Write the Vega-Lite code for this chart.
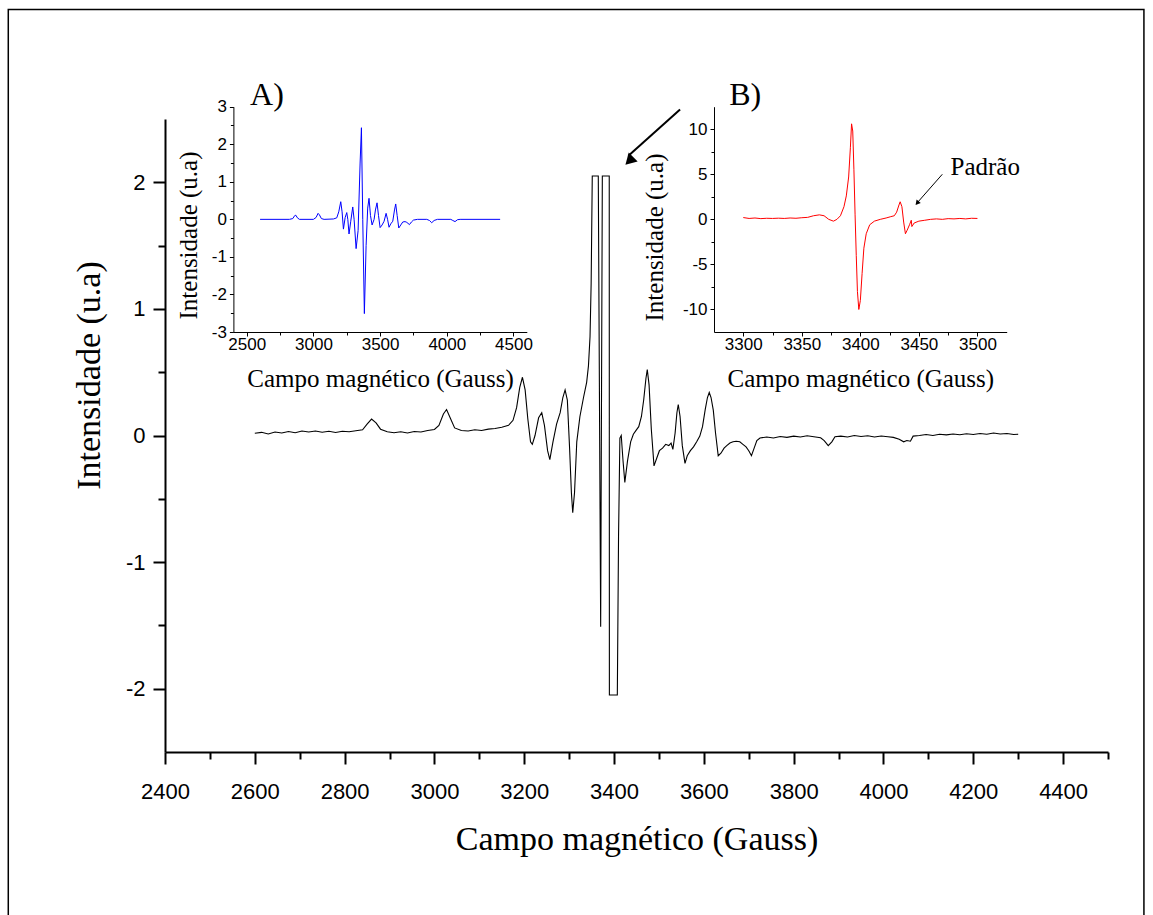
{
  "$schema": "https://vega.github.io/schema/vega-lite/v6.json",
  "width": 943,
  "height": 633,
  "autosize": {"type": "none"},
  "padding": {"left": 165, "top": 119, "right": 45, "bottom": 163},
  "background": "white",
  "config": {
    "view": {"stroke": null},
    "axis": {
      "grid": false,
      "labelFont": "Liberation Sans",
      "titleFont": "Liberation Serif",
      "titleFontWeight": "normal",
      "labelColor": "black",
      "titleColor": "black",
      "domainColor": "black",
      "tickColor": "black",
      "labelOverlap": false,
      "labelFlush": false
    }
  },
  "datasets": {
    "main": [
      {"x": 2600, "y": 0.018}, {"x": 2615, "y": 0.025}, {"x": 2630, "y": 0.012}, {"x": 2645, "y": 0.028},
      {"x": 2660, "y": 0.02}, {"x": 2675, "y": 0.032}, {"x": 2690, "y": 0.022}, {"x": 2705, "y": 0.035},
      {"x": 2720, "y": 0.028}, {"x": 2735, "y": 0.036}, {"x": 2750, "y": 0.026}, {"x": 2765, "y": 0.033},
      {"x": 2780, "y": 0.024}, {"x": 2795, "y": 0.034}, {"x": 2810, "y": 0.03}, {"x": 2825, "y": 0.038},
      {"x": 2840, "y": 0.045}, {"x": 2850, "y": 0.09}, {"x": 2860, "y": 0.13}, {"x": 2870, "y": 0.1},
      {"x": 2880, "y": 0.05}, {"x": 2895, "y": 0.03}, {"x": 2910, "y": 0.022}, {"x": 2925, "y": 0.03},
      {"x": 2940, "y": 0.02}, {"x": 2955, "y": 0.032}, {"x": 2970, "y": 0.028}, {"x": 2985, "y": 0.04},
      {"x": 3000, "y": 0.048}, {"x": 3010, "y": 0.08}, {"x": 3020, "y": 0.17}, {"x": 3027, "y": 0.205},
      {"x": 3035, "y": 0.14}, {"x": 3045, "y": 0.06}, {"x": 3060, "y": 0.04}, {"x": 3075, "y": 0.035},
      {"x": 3090, "y": 0.045}, {"x": 3105, "y": 0.04}, {"x": 3120, "y": 0.05}, {"x": 3135, "y": 0.055},
      {"x": 3150, "y": 0.065}, {"x": 3165, "y": 0.08}, {"x": 3175, "y": 0.12}, {"x": 3183, "y": 0.22},
      {"x": 3190, "y": 0.38}, {"x": 3196, "y": 0.46}, {"x": 3202, "y": 0.36}, {"x": 3208, "y": 0.13},
      {"x": 3214, "y": -0.05}, {"x": 3218, "y": -0.07}, {"x": 3224, "y": 0.0}, {"x": 3232, "y": 0.14},
      {"x": 3239, "y": 0.18}, {"x": 3245, "y": 0.08}, {"x": 3252, "y": -0.12}, {"x": 3257, "y": -0.19},
      {"x": 3264, "y": -0.05}, {"x": 3272, "y": 0.09}, {"x": 3280, "y": 0.18}, {"x": 3286, "y": 0.3},
      {"x": 3291, "y": 0.36}, {"x": 3296, "y": 0.28}, {"x": 3301, "y": -0.1}, {"x": 3305, "y": -0.45},
      {"x": 3308, "y": -0.61}, {"x": 3312, "y": -0.45}, {"x": 3317, "y": -0.05}, {"x": 3324, "y": 0.15},
      {"x": 3332, "y": 0.3}, {"x": 3339, "y": 0.42}, {"x": 3343, "y": 0.55}, {"x": 3346.5, "y": 0.78},
      {"x": 3349, "y": 1.2}, {"x": 3351.5, "y": 2.05}, {"x": 3364.9, "y": 2.05}, {"x": 3370.2, "y": -1.51},
      {"x": 3373.9, "y": 2.05}, {"x": 3389.3, "y": 2.05}, {"x": 3389.6, "y": -2.05}, {"x": 3407.3, "y": -2.05},
      {"x": 3410, "y": -0.8}, {"x": 3413, "y": -0.02}, {"x": 3416, "y": 0.0}, {"x": 3420, "y": -0.2},
      {"x": 3424, "y": -0.37}, {"x": 3430, "y": -0.2}, {"x": 3437, "y": -0.05}, {"x": 3443, "y": 0.01},
      {"x": 3449, "y": 0.04}, {"x": 3455, "y": 0.07}, {"x": 3461, "y": 0.15}, {"x": 3466, "y": 0.28},
      {"x": 3471, "y": 0.45}, {"x": 3474, "y": 0.52}, {"x": 3478, "y": 0.4}, {"x": 3483, "y": 0.05},
      {"x": 3489, "y": -0.24}, {"x": 3495, "y": -0.18}, {"x": 3501, "y": -0.12}, {"x": 3508, "y": -0.1},
      {"x": 3515, "y": -0.07}, {"x": 3522, "y": -0.08}, {"x": 3527, "y": -0.06}, {"x": 3531, "y": -0.11},
      {"x": 3536, "y": 0.02}, {"x": 3540, "y": 0.18}, {"x": 3543, "y": 0.245}, {"x": 3547, "y": 0.15},
      {"x": 3552, "y": -0.08}, {"x": 3558, "y": -0.22}, {"x": 3563, "y": -0.16}, {"x": 3570, "y": -0.12},
      {"x": 3577, "y": -0.09}, {"x": 3584, "y": -0.05}, {"x": 3591, "y": -0.005}, {"x": 3597, "y": 0.07},
      {"x": 3603, "y": 0.205}, {"x": 3608, "y": 0.3}, {"x": 3612, "y": 0.34}, {"x": 3616, "y": 0.3},
      {"x": 3621, "y": 0.2}, {"x": 3626, "y": 0.02}, {"x": 3632, "y": -0.16}, {"x": 3638, "y": -0.14},
      {"x": 3645, "y": -0.1}, {"x": 3651, "y": -0.08}, {"x": 3658, "y": -0.06}, {"x": 3665, "y": -0.05},
      {"x": 3672, "y": -0.045}, {"x": 3680, "y": -0.05}, {"x": 3687, "y": -0.07}, {"x": 3694, "y": -0.09},
      {"x": 3700, "y": -0.12}, {"x": 3706, "y": -0.16}, {"x": 3712, "y": -0.1}, {"x": 3718, "y": -0.04},
      {"x": 3725, "y": -0.02}, {"x": 3740, "y": -0.012}, {"x": 3755, "y": -0.02}, {"x": 3770, "y": -0.008},
      {"x": 3785, "y": -0.015}, {"x": 3800, "y": -0.005}, {"x": 3815, "y": -0.012}, {"x": 3830, "y": -0.002},
      {"x": 3845, "y": -0.01}, {"x": 3860, "y": -0.018}, {"x": 3868, "y": -0.04}, {"x": 3877, "y": -0.08},
      {"x": 3885, "y": -0.05}, {"x": 3892, "y": -0.01}, {"x": 3905, "y": -0.005}, {"x": 3920, "y": -0.012},
      {"x": 3935, "y": 0.0}, {"x": 3950, "y": -0.008}, {"x": 3965, "y": -0.002}, {"x": 3980, "y": -0.012},
      {"x": 3995, "y": -0.004}, {"x": 4010, "y": -0.01}, {"x": 4022, "y": -0.015}, {"x": 4035, "y": -0.03},
      {"x": 4045, "y": -0.05}, {"x": 4052, "y": -0.04}, {"x": 4060, "y": -0.045}, {"x": 4066, "y": -0.005},
      {"x": 4080, "y": 0.0}, {"x": 4095, "y": 0.008}, {"x": 4110, "y": 0.0}, {"x": 4125, "y": 0.01},
      {"x": 4140, "y": 0.005}, {"x": 4155, "y": 0.012}, {"x": 4170, "y": 0.006}, {"x": 4185, "y": 0.014},
      {"x": 4200, "y": 0.008}, {"x": 4215, "y": 0.016}, {"x": 4230, "y": 0.01}, {"x": 4245, "y": 0.02},
      {"x": 4260, "y": 0.012}, {"x": 4275, "y": 0.016}, {"x": 4290, "y": 0.008}, {"x": 4300, "y": 0.01}
    ],
    "insetA": [
      {"x": 2600, "y": 0}, {"x": 2820, "y": 0}, {"x": 2845, "y": 0.02}, {"x": 2860, "y": 0.1},
      {"x": 2868, "y": 0.11}, {"x": 2880, "y": 0.04}, {"x": 2895, "y": 0}, {"x": 3000, "y": 0},
      {"x": 3020, "y": 0.05}, {"x": 3035, "y": 0.16}, {"x": 3045, "y": 0.12}, {"x": 3060, "y": 0.02},
      {"x": 3080, "y": 0}, {"x": 3150, "y": 0.01}, {"x": 3175, "y": 0.04}, {"x": 3190, "y": 0.2},
      {"x": 3205, "y": 0.47}, {"x": 3215, "y": 0.2}, {"x": 3225, "y": -0.26}, {"x": 3238, "y": 0.05},
      {"x": 3250, "y": 0.18}, {"x": 3258, "y": 0.0}, {"x": 3267, "y": -0.39}, {"x": 3280, "y": -0.05},
      {"x": 3295, "y": 0.33}, {"x": 3305, "y": 0.0}, {"x": 3320, "y": -0.78}, {"x": 3335, "y": -0.3},
      {"x": 3350, "y": 1.5}, {"x": 3360, "y": 2.44}, {"x": 3370, "y": 0.0}, {"x": 3382, "y": -2.51},
      {"x": 3395, "y": -0.7}, {"x": 3407, "y": 0.3}, {"x": 3417, "y": 0.56}, {"x": 3428, "y": 0.1},
      {"x": 3440, "y": -0.15}, {"x": 3455, "y": 0.0}, {"x": 3465, "y": 0.25}, {"x": 3477, "y": 0.44},
      {"x": 3488, "y": 0.1}, {"x": 3500, "y": -0.22}, {"x": 3515, "y": -0.15}, {"x": 3530, "y": -0.05},
      {"x": 3545, "y": 0.16}, {"x": 3556, "y": 0.0}, {"x": 3567, "y": -0.21}, {"x": 3580, "y": -0.12},
      {"x": 3595, "y": -0.05}, {"x": 3608, "y": 0.25}, {"x": 3617, "y": 0.41}, {"x": 3628, "y": 0.1},
      {"x": 3640, "y": -0.23}, {"x": 3655, "y": -0.15}, {"x": 3670, "y": -0.07}, {"x": 3687, "y": -0.06},
      {"x": 3700, "y": -0.08}, {"x": 3720, "y": -0.14}, {"x": 3735, "y": -0.07}, {"x": 3750, "y": -0.02},
      {"x": 3780, "y": 0}, {"x": 3850, "y": 0}, {"x": 3870, "y": -0.03}, {"x": 3887, "y": -0.09},
      {"x": 3905, "y": -0.03}, {"x": 3930, "y": 0}, {"x": 4030, "y": 0}, {"x": 4045, "y": -0.03},
      {"x": 4062, "y": -0.06}, {"x": 4080, "y": -0.01}, {"x": 4100, "y": 0}, {"x": 4400, "y": 0}
    ],
    "insetB": [
      {"x": 3300, "y": 0.2}, {"x": 3305, "y": 0.1}, {"x": 3310, "y": 0.15}, {"x": 3315, "y": 0.08},
      {"x": 3320, "y": 0.12}, {"x": 3325, "y": 0.1}, {"x": 3330, "y": 0.13}, {"x": 3335, "y": 0.1},
      {"x": 3340, "y": 0.15}, {"x": 3345, "y": 0.12}, {"x": 3350, "y": 0.18}, {"x": 3355, "y": 0.22},
      {"x": 3360, "y": 0.4}, {"x": 3365, "y": 0.5}, {"x": 3369, "y": 0.4}, {"x": 3373, "y": 0.0},
      {"x": 3377, "y": -0.2}, {"x": 3380, "y": 0.0}, {"x": 3383, "y": 0.4}, {"x": 3386, "y": 1.4},
      {"x": 3388, "y": 2.6}, {"x": 3390, "y": 4.7}, {"x": 3391.5, "y": 8.0}, {"x": 3392.5, "y": 10.6},
      {"x": 3393.5, "y": 9.8}, {"x": 3394.5, "y": 5.5}, {"x": 3395.5, "y": 0.5}, {"x": 3396.5, "y": -4.0},
      {"x": 3397.5, "y": -8.0}, {"x": 3398.7, "y": -10.0}, {"x": 3400, "y": -9.0}, {"x": 3401.5, "y": -6.0},
      {"x": 3403, "y": -3.2}, {"x": 3405, "y": -1.6}, {"x": 3408, "y": -0.6}, {"x": 3412, "y": -0.2},
      {"x": 3417, "y": 0.0}, {"x": 3422, "y": 0.15}, {"x": 3426, "y": 0.3}, {"x": 3429, "y": 0.4},
      {"x": 3431, "y": 0.8}, {"x": 3433, "y": 1.6}, {"x": 3434, "y": 1.95}, {"x": 3435.5, "y": 1.4},
      {"x": 3437, "y": -0.3}, {"x": 3438.5, "y": -1.6}, {"x": 3440, "y": -1.2}, {"x": 3442, "y": -0.6},
      {"x": 3443.5, "y": -0.1}, {"x": 3444, "y": -0.8}, {"x": 3446, "y": -0.4}, {"x": 3450, "y": -0.2},
      {"x": 3455, "y": -0.1}, {"x": 3460, "y": 0.0}, {"x": 3465, "y": 0.05}, {"x": 3470, "y": 0.0},
      {"x": 3475, "y": 0.08}, {"x": 3480, "y": 0.05}, {"x": 3485, "y": 0.1}, {"x": 3490, "y": 0.05},
      {"x": 3495, "y": 0.12}, {"x": 3500, "y": 0.1}
    ],
    "frame": [{"x": 2051, "x2": 4580, "y": 3.365, "y2": -3.9}],
    "bigArrow": [{"x": 3547, "y": 2.575, "x2": 3432, "y2": 2.21}],
    "bigHead": [{"x": 3434, "y": 2.17}],
    "labelA": [{"x": 2525, "y": 3.3, "label": "A)"}],
    "labelB": [{"x": 3288, "y": 13.8, "label": "B)"}],
    "padArrow": [{"x": 3470, "y": 5.0, "x2": 3449, "y2": 1.9}],
    "padHead": [{"x": 3448.5, "y": 1.8}],
    "padText": [{"x": 3477, "y": 5.8, "label": "Padrão"}]
  },
  "layer": [
    {
      "resolve": {"axis": {"x": "independent", "y": "independent"}},
      "layer": [
        {
          "data": {"name": "frame"},
          "mark": {"type": "rect", "fill": null, "stroke": "black", "strokeWidth": 1.5},
          "encoding": {
            "x": {
              "field": "x", "type": "quantitative",
              "scale": {"domain": [2400, 4500], "nice": false, "zero": false},
              "axis": {"orient": "bottom", "title": null, "labels": false, "domain": false, "tickSize": 7, "tickWidth": 2,
                       "values": [2500, 2700, 2900, 3100, 3300, 3500, 3700, 3900, 4100, 4300, 4500]}
            },
            "x2": {"field": "x2"},
            "y": {
              "field": "y", "type": "quantitative",
              "scale": {"domain": [-2.5, 2.5], "nice": false, "zero": false},
              "axis": {"orient": "left", "title": null, "labels": false, "domain": false, "tickSize": 7, "tickWidth": 2,
                       "values": [-1.5, -0.5, 0.5, 1.5]}
            },
            "y2": {"field": "y2"}
          }
        },
        {
          "data": {"name": "main"},
          "mark": {"type": "line", "color": "black", "strokeWidth": 1.1},
          "encoding": {
            "x": {
              "field": "x", "type": "quantitative",
              "scale": {"domain": [2400, 4500], "nice": false, "zero": false},
              "axis": {
                "orient": "bottom",
                "title": "Campo magnético (Gauss)",
                "titleFontSize": 34,
                "titleY": 70,
                "values": [2400, 2600, 2800, 3000, 3200, 3400, 3600, 3800, 4000, 4200, 4400],
                "labelExpr": "toString(datum.value)",
                "labelFontSize": 22,
                "labelPadding": 17,
                "tickSize": 12,
                "tickWidth": 2,
                "domainWidth": 2
              }
            },
            "y": {
              "field": "y", "type": "quantitative",
              "scale": {"domain": [-2.5, 2.5], "nice": false, "zero": false},
              "axis": {
                "orient": "left",
                "title": "Intensidade (u.a)",
                "titleFontSize": 34,
                "titleX": -59,
                "titleY": 256,
                "values": [-2, -1, 0, 1, 2],
                "labelExpr": "toString(datum.value)",
                "labelFontSize": 22,
                "labelPadding": 8,
                "tickSize": 12,
                "tickWidth": 2,
                "domainWidth": 2
              }
            }
          }
        },
        {
          "data": {"name": "bigArrow"},
          "mark": {"type": "rule", "color": "black", "strokeWidth": 2},
          "encoding": {
            "x": {"field": "x", "type": "quantitative", "axis": null},
            "x2": {"field": "x2"},
            "y": {"field": "y", "type": "quantitative", "axis": null},
            "y2": {"field": "y2"}
          }
        },
        {
          "data": {"name": "bigHead"},
          "mark": {"type": "point", "shape": "triangle-up", "filled": true, "color": "black", "opacity": 1, "size": 160, "angle": 225},
          "encoding": {
            "x": {"field": "x", "type": "quantitative", "axis": null},
            "y": {"field": "y", "type": "quantitative", "axis": null}
          }
        }
      ]
    },
    {
      "resolve": {"axis": {"x": "independent", "y": "independent"}},
      "layer": [
        {
          "data": {"name": "insetA"},
          "mark": {"type": "line", "color": "#0000ff", "strokeWidth": 1},
          "encoding": {
            "x": {
              "field": "x", "type": "quantitative",
              "scale": {"domain": [2400, 4600], "range": [68.4, 361.8], "nice": false, "zero": false},
              "axis": {
                "orient": "bottom",
                "offset": -420,
                "title": "Campo magnético (Gauss)",
                "titleFontSize": 25,
                "titleY": 34,
                "values": [2500, 3000, 3500, 4000, 4500],
                "labelExpr": "toString(datum.value)",
                "labelFontSize": 17,
                "labelPadding": 0,
                "tickSize": 4,
                "tickWidth": 1,
                "domainWidth": 1
              }
            },
            "y": {
              "field": "y", "type": "quantitative",
              "scale": {"domain": [-3, 3], "range": [213, -12.3], "nice": false, "zero": false},
              "axis": {
                "orient": "left",
                "offset": -68.4,
                "title": "Intensidade (u.a)",
                "titleFontSize": 25,
                "titleX": -32.4,
                "titleY": 116,
                "values": [-3, -2, -1, 0, 1, 2, 3],
                "labelExpr": "toString(datum.value)",
                "labelFontSize": 17,
                "labelPadding": 3,
                "tickSize": 4,
                "tickWidth": 1,
                "domainWidth": 1
              }
            }
          }
        },
        {
          "data": {"name": "labelA"},
          "mark": {"type": "text", "font": "Liberation Serif", "fontSize": 32, "align": "left", "baseline": "middle", "color": "black"},
          "encoding": {
            "x": {
              "field": "x", "type": "quantitative",
              "scale": {"domain": [2400, 4600], "range": [68.4, 361.8], "nice": false, "zero": false},
              "axis": {"orient": "bottom", "offset": -420, "title": null, "labels": false, "domain": false, "tickSize": 3, "tickWidth": 1,
                       "values": [2750, 3250, 3750, 4250]}
            },
            "y": {
              "field": "y", "type": "quantitative",
              "scale": {"domain": [-3, 3], "range": [213, -12.3], "nice": false, "zero": false},
              "axis": {"orient": "left", "offset": -68.4, "title": null, "labels": false, "domain": false, "tickSize": 3, "tickWidth": 1,
                       "values": [-2.5, -1.5, -0.5, 0.5, 1.5, 2.5]}
            },
            "text": {"field": "label"}
          }
        }
      ]
    },
    {
      "resolve": {"axis": {"x": "independent", "y": "independent"}},
      "layer": [
        {
          "data": {"name": "insetB"},
          "mark": {"type": "line", "color": "#ff0000", "strokeWidth": 1},
          "encoding": {
            "x": {
              "field": "x", "type": "quantitative",
              "scale": {"domain": [3275, 3525], "range": [549, 841.7], "nice": false, "zero": false},
              "axis": {
                "orient": "bottom",
                "offset": -420,
                "title": "Campo magnético (Gauss)",
                "titleFontSize": 25,
                "titleY": 34,
                "values": [3300, 3350, 3400, 3450, 3500],
                "labelExpr": "toString(datum.value)",
                "labelFontSize": 17,
                "labelPadding": 0,
                "tickSize": 4,
                "tickWidth": 1,
                "domainWidth": 1
              }
            },
            "y": {
              "field": "y", "type": "quantitative",
              "scale": {"domain": [-12.5, 12.5], "range": [213, -12.3], "nice": false, "zero": false},
              "axis": {
                "orient": "left",
                "offset": -549,
                "title": "Intensidade (u.a)",
                "titleFontSize": 25,
                "titleX": -46.5,
                "titleY": 118,
                "values": [-10, -5, 0, 5, 10],
                "labelExpr": "toString(datum.value)",
                "labelFontSize": 17,
                "labelPadding": 3,
                "tickSize": 4,
                "tickWidth": 1,
                "domainWidth": 1
              }
            }
          }
        },
        {
          "data": {"name": "labelB"},
          "mark": {"type": "text", "font": "Liberation Serif", "fontSize": 32, "align": "left", "baseline": "middle", "color": "black"},
          "encoding": {
            "x": {
              "field": "x", "type": "quantitative",
              "scale": {"domain": [3275, 3525], "range": [549, 841.7], "nice": false, "zero": false},
              "axis": {"orient": "bottom", "offset": -420, "title": null, "labels": false, "domain": false, "tickSize": 3, "tickWidth": 1,
                       "values": [3325, 3375, 3425, 3475]}
            },
            "y": {
              "field": "y", "type": "quantitative",
              "scale": {"domain": [-12.5, 12.5], "range": [213, -12.3], "nice": false, "zero": false},
              "axis": {"orient": "left", "offset": -549, "title": null, "labels": false, "domain": false, "tickSize": 3, "tickWidth": 1,
                       "values": [-7.5, -2.5, 2.5, 7.5]}
            },
            "text": {"field": "label"}
          }
        },
        {
          "data": {"name": "padArrow"},
          "mark": {"type": "rule", "color": "black", "strokeWidth": 1},
          "encoding": {
            "x": {"field": "x", "type": "quantitative", "scale": {"domain": [3275, 3525], "range": [549, 841.7], "nice": false, "zero": false}, "axis": null},
            "x2": {"field": "x2"},
            "y": {"field": "y", "type": "quantitative", "scale": {"domain": [-12.5, 12.5], "range": [213, -12.3], "nice": false, "zero": false}, "axis": null},
            "y2": {"field": "y2"}
          }
        },
        {
          "data": {"name": "padHead"},
          "mark": {"type": "point", "shape": "triangle-up", "filled": true, "color": "black", "opacity": 1, "size": 30, "angle": 220},
          "encoding": {
            "x": {"field": "x", "type": "quantitative", "scale": {"domain": [3275, 3525], "range": [549, 841.7], "nice": false, "zero": false}, "axis": null},
            "y": {"field": "y", "type": "quantitative", "scale": {"domain": [-12.5, 12.5], "range": [213, -12.3], "nice": false, "zero": false}, "axis": null}
          }
        },
        {
          "data": {"name": "padText"},
          "mark": {"type": "text", "font": "Liberation Serif", "fontSize": 25, "align": "left", "baseline": "middle", "color": "black"},
          "encoding": {
            "x": {"field": "x", "type": "quantitative", "scale": {"domain": [3275, 3525], "range": [549, 841.7], "nice": false, "zero": false}, "axis": null},
            "y": {"field": "y", "type": "quantitative", "scale": {"domain": [-12.5, 12.5], "range": [213, -12.3], "nice": false, "zero": false}, "axis": null},
            "text": {"field": "label"}
          }
        }
      ]
    }
  ],
  "resolve": {"scale": {"x": "independent", "y": "independent"}, "axis": {"x": "independent", "y": "independent"}}
}
